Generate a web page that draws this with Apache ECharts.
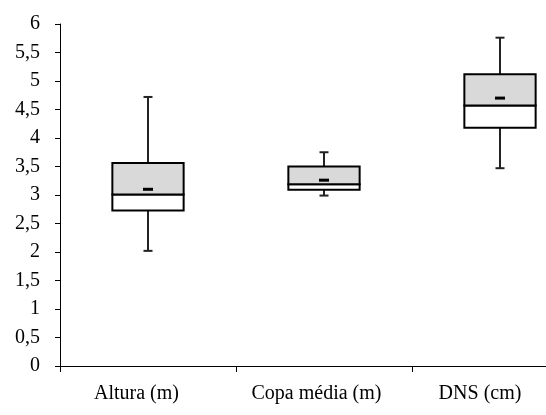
<!DOCTYPE html>
<html>
<head>
<meta charset="utf-8">
<script src="https://cdn.jsdelivr.net/npm/echarts@6/dist/echarts.min.js"></script>
<style>
html,body{margin:0;padding:0;background:#fff;}
#chart{width:546px;height:415px;}
</style>
</head>
<body>
<div id="chart"></div>
<script>
var categories = ['Altura (m)', 'Copa média (m)', 'DNS (cm)'];
var minVals    = [2.02, 2.99, 3.47];
var q1Vals     = [2.73, 3.09, 4.18];
var medianVals = [3.01, 3.19, 4.57];
var q3Vals     = [3.56, 3.50, 5.12];
var maxVals    = [4.72, 3.75, 5.76];
var meanVals   = [3.10, 3.26, 4.70];
var yTicks = [0, 0.5, 1, 1.5, 2, 2.5, 3, 3.5, 4, 4.5, 5, 5.5, 6];

var FONT = "'Liberation Serif', 'Times New Roman', serif";

var boxData = categories.map(function (c, i) {
  return [i, minVals[i], q1Vals[i], medianVals[i], q3Vals[i], maxVals[i], meanVals[i]];
});

function renderBox(params, api) {
  var idx = api.value(0);
  var cx = api.coord([idx, 0])[0];
  var band = api.size([1, 0])[0];
  var w = band * 0.405;
  var left = cx - w / 2;
  var yMin = api.coord([idx, api.value(1)])[1];
  var yQ1 = api.coord([idx, api.value(2)])[1];
  var yMed = api.coord([idx, api.value(3)])[1];
  var yQ3 = api.coord([idx, api.value(4)])[1];
  var yMax = api.coord([idx, api.value(5)])[1];
  var yMean = api.coord([idx, api.value(6)])[1];
  var capHalf = 4.5;
  var wStyle = { stroke: '#222', lineWidth: 2 };
  return {
    type: 'group',
    children: [
      { type: 'line', shape: { x1: cx, y1: yQ3, x2: cx, y2: yMax }, style: wStyle },
      { type: 'line', shape: { x1: cx - capHalf, y1: yMax, x2: cx + capHalf, y2: yMax }, style: wStyle },
      { type: 'line', shape: { x1: cx, y1: yQ1, x2: cx, y2: yMin }, style: wStyle },
      { type: 'line', shape: { x1: cx - capHalf, y1: yMin, x2: cx + capHalf, y2: yMin }, style: wStyle },
      { type: 'rect', shape: { x: left, y: yMed, width: w, height: yQ1 - yMed }, style: { fill: '#ffffff', stroke: '#000', lineWidth: 2 } },
      { type: 'rect', shape: { x: left, y: yQ3, width: w, height: yMed - yQ3 }, style: { fill: '#d9d9d9', stroke: '#000', lineWidth: 2 } },
      { type: 'line', shape: { x1: cx - 5, y1: yMean, x2: cx + 5, y2: yMean }, style: { stroke: '#000', lineWidth: 3 } }
    ]
  };
}

var labelPad = [23, 15, 40];
var rich = {};
categories.forEach(function (c, i) {
  rich['c' + i] = { fontFamily: FONT, fontSize: 20, color: '#000', padding: [0, labelPad[i], 0, 0] };
});

var chart = echarts.init(document.getElementById('chart'), null, { renderer: 'canvas' });
chart.setOption({
  animation: false,
  backgroundColor: '#ffffff',
  grid: { left: 60, top: 24, width: 528, height: 342, containLabel: false, outerBoundsMode: 'none' },
  xAxis: {
    type: 'category',
    data: categories,
    boundaryGap: true,
    axisLine: { lineStyle: { color: '#000', width: 1 } },
    axisTick: { show: true, length: 6, alignWithLabel: false, lineStyle: { color: '#000' } },
    axisLabel: {
      interval: 0,
      margin: 18,
      hideOverlap: false,
      formatter: function (v) { return '{c' + categories.indexOf(v) + '|' + v + '}'; },
      rich: rich
    },
    splitLine: { show: false }
  },
  yAxis: {
    type: 'value',
    min: yTicks[0],
    max: yTicks[yTicks.length - 1],
    interval: 0.5,
    axisLine: { show: true, lineStyle: { color: '#000', width: 1 } },
    axisTick: { show: true, length: 5, lineStyle: { color: '#000' } },
    axisLabel: {
      margin: 20,
      color: '#000',
      fontFamily: FONT,
      fontSize: 20,
      formatter: function (v) { return String(v).replace('.', ','); }
    },
    splitLine: { show: false }
  },
  series: [{
    type: 'custom',
    renderItem: renderBox,
    data: boxData,
    encode: { x: 0, y: [1, 2, 3, 4, 5, 6] },
    clip: false
  }]
});
</script>
</body>
</html>
